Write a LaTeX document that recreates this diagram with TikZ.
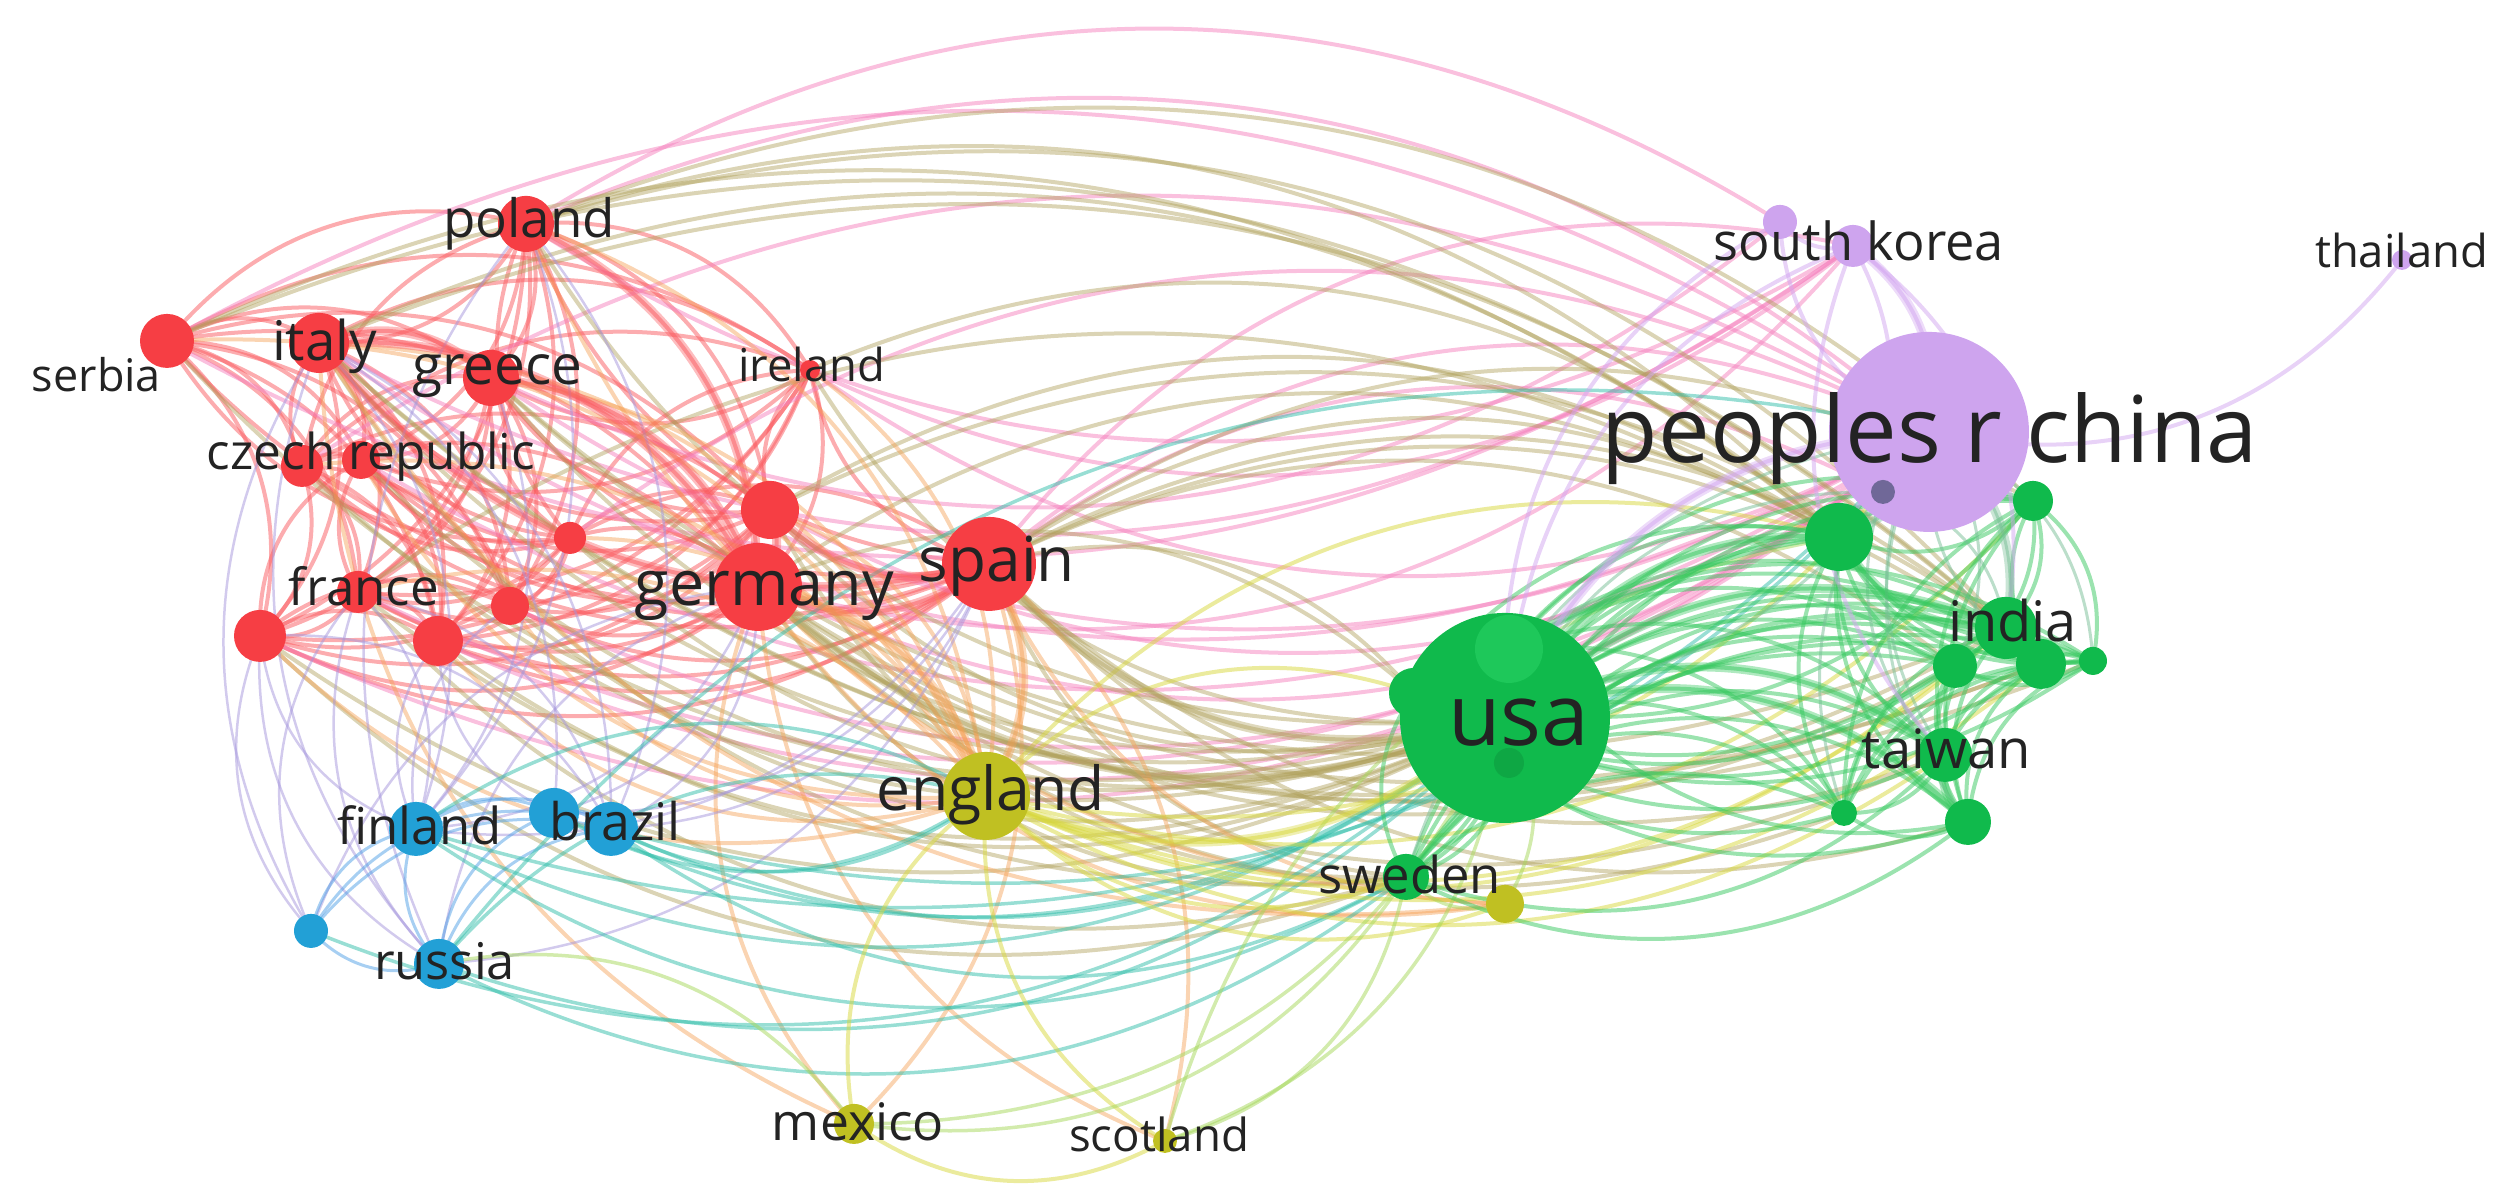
\documentclass[tikz,border=0pt]{standalone}
\usepackage{fontspec}
\setmainfont{Open Sans}
\usepackage{graphicx}
\newdimen\pxu \pxu=0.04pt
\definecolor{nred}{RGB}{246,62,68}
\definecolor{ngreen}{RGB}{16,186,76}
\definecolor{ngreenl}{RGB}{30,200,90}
\definecolor{nblue}{RGB}{34,160,214}
\definecolor{nyellow}{RGB}{192,192,34}
\definecolor{npurple}{RGB}{206,164,238}
\definecolor{ndark}{RGB}{112,104,152}
\definecolor{cR}{RGB}{250,90,95}
\definecolor{cP}{RGB}{245,130,190}
\definecolor{cO}{RGB}{175,160,90}
\definecolor{cY}{RGB}{245,160,85}
\definecolor{cL}{RGB}{165,150,220}
\definecolor{cB}{RGB}{80,160,230}
\definecolor{cT}{RGB}{50,190,170}
\definecolor{cYl}{RGB}{215,215,60}
\definecolor{cLi}{RGB}{165,215,90}
\definecolor{cG}{RGB}{55,200,95}
\definecolor{cGc}{RGB}{120,190,150}
\definecolor{cV}{RGB}{210,165,240}
\definecolor{labc}{RGB}{35,35,35}
% ranks (alphabetical order of the items)
\def\rkaus{1}\def\rkaut{2}\def\rkbel{3}\def\rkbra{4}\def\rkcan{5}\def\rkchl{6}
\def\rkcz{7}\def\rkden{8}\def\rkeng{9}\def\rkfin{10}\def\rkfra{11}\def\rkger{12}
\def\rkgre{13}\def\rkskb{14}\def\rkind{15}\def\rkire{16}\def\rkita{17}\def\rkjap{18}
\def\rkmal{19}\def\rkmex{20}\def\rknet{21}\def\rknor{22}\def\rkchi{23}\def\rkpak{24}
\def\rkpol{25}\def\rkpor{26}\def\rkrus{27}\def\rksau{28}\def\rksco{29}\def\rkser{30}
\def\rksin{31}\def\rkhk{32}\def\rkskr{33}\def\rkspa{34}\def\rkswe{35}\def\rkswi{36}
\def\rktai{37}\def\rktha{38}\def\rktur{39}\def\rkuo{40}\def\rkvie{42}\def\rkusa{43}\def\rkut{44}
\newcommand\vedge[3]{%
  \ifnum\csname rk#2\endcsname<\csname rk#3\endcsname\relax
    \draw[#1] (#2) to[bend right=32] (#3);%
  \else
    \draw[#1] (#3) to[bend right=32] (#2);%
  \fi}
\newcommand\vedges[2]{\foreach \ea/\eb in {#2}{\vedge{#1}{\ea}{\eb}}}
\newcommand\vclique[2]{\foreach \ea [count=\ei] in {#2}{\foreach \eb [count=\ej] in {#2}{\ifnum\ei<\ej\relax\vedge{#1}{\ea}{\eb}\fi}}}
\newcommand\vnode[3]{\node[vn, fill=#2, minimum size={2*#3\pxu}] (#1c) at (#1) {};}
\newcommand\vlab[5]{\node[anchor=base west, inner sep=0pt, text=labc] (#1l) at (#2,#3) {\resizebox{#4\pxu}{!}{\fontsize{50}{50}\selectfont #5}};}
\begin{document}
\begin{tikzpicture}[x=\pxu,y=-\pxu,
  ed/.style={line width=4\pxu, draw opacity=.5, line cap=round},
  eR/.style={ed, draw=cR},
  eP/.style={ed, draw=cP},
  eO/.style={ed, draw=cO, draw opacity=.45},
  eY/.style={ed, draw=cY, draw opacity=.45},
  eL/.style={ed, draw=cL, line width=2.5\pxu},
  eB/.style={ed, draw=cB, line width=3\pxu},
  eT/.style={ed, draw=cT, line width=3.5\pxu},
  eYl/.style={ed, draw=cYl},
  eLi/.style={ed, draw=cLi, line width=3.5\pxu},
  eG/.style={ed, draw=cG},
  eGc/.style={ed, draw=cGc, line width=3\pxu},
  eV/.style={ed, draw=cV},
  thick/.style={line width=9\pxu, draw opacity=.4},
  vn/.style={circle, inner sep=0pt, draw=none}]
\useasboundingbox (0,0) rectangle (2510,1200);
% ---- item positions
\coordinate (pol) at (526,224);
\coordinate (ser) at (167,341);
\coordinate (ita) at (319,343);
\coordinate (gre) at (491,378);
\coordinate (por) at (302,466);
\coordinate (cz)  at (361,460);
\coordinate (ire) at (810,370);
\coordinate (net) at (770,510);
\coordinate (swi) at (570,538);
\coordinate (ger) at (758,587);
\coordinate (spa) at (989,564);
\coordinate (fra) at (358,592);
\coordinate (aut) at (510,606);
\coordinate (den) at (260,636);
\coordinate (bel) at (438,641);
\coordinate (fin) at (416,829);
\coordinate (chl) at (554,813);
\coordinate (bra) at (611,829);
\coordinate (nor) at (311,931);
\coordinate (rus) at (439,964);
\coordinate (eng) at (986,796);
\coordinate (mex) at (854,1124);
\coordinate (sco) at (1165,1141);
\coordinate (tur) at (1505,904);
\coordinate (usa) at (1505,718);
\coordinate (uo)  at (1509,649);
\coordinate (can) at (1414,693);
\coordinate (ut)  at (1509,763);
\coordinate (swe) at (1406,877);
\coordinate (aus) at (1839,537);
\coordinate (pak) at (2033,501);
\coordinate (ind) at (2006,628);
\coordinate (sau) at (2041,664);
\coordinate (jap) at (1955,666);
\coordinate (mal) at (2093,661);
\coordinate (tai) at (1945,755);
\coordinate (sin) at (1844,813);
\coordinate (vie) at (1968,822);
\coordinate (chi) at (1929,432);
\coordinate (hk)  at (1883,492);
\coordinate (skb) at (1780,222);
\coordinate (skr) at (1853,246);
\coordinate (tha) at (2402,260);
% ---- links
\vclique{eR}{pol,ser,ita,gre,por,cz,ire,net,swi,ger,spa,fra,aut,den,bel}
\vedges{eP}{pol/chi,pol/skb,pol/skr,ser/chi,ser/skr,ita/chi,ita/skr,gre/chi,gre/skb,ger/chi,ger/skr,spa/chi,spa/skr,net/chi,fra/chi,cz/chi,ire/chi,den/chi,por/chi,aut/chi,bel/chi,swi/chi,ire/skr,spa/hk}
\vedges{eO}{pol/usa,ser/usa,ita/usa,gre/usa,ger/usa,spa/usa,net/usa,fra/usa,ire/usa,den/usa,aut/usa,bel/usa,por/usa,cz/usa,swi/usa,ger/aus,spa/aus,ita/aus,pol/aus,spa/ind,ger/ind,ita/ind,gre/ind,pol/ind,spa/tai,ger/tai,spa/swe,ger/swe,ita/swe,fra/swe,net/swe,den/swe,spa/sau,ita/sau,ger/jap,spa/jap,ger/can,spa/can,gre/sau,pol/pak,spa/pak,ita/mal,spa/vie,ger/sin,ser/ind,ser/aus,net/aus,net/ind,ire/aus,fra/aus}
\vedges{eY}{pol/eng,ser/eng,ita/eng,gre/eng,ger/eng,spa/eng,net/eng,fra/eng,ire/eng,den/eng,aut/eng,bel/eng,por/eng,cz/eng,swi/eng,spa/mex,ger/mex,ita/mex,spa/sco,ger/sco,spa/tur,ita/tur,ger/tur,pol/tur}
\vedges{eL}{fin/fra,fin/den,fin/ger,fin/ita,fin/spa,fin/bel,fin/aut,bra/spa,bra/ger,bra/ita,bra/fra,bra/pol,chl/spa,chl/ger,chl/ita,rus/ger,rus/fra,rus/ita,rus/spa,rus/pol,rus/den,nor/den,nor/fra,nor/ger,fin/pol,fin/gre,nor/ita,bra/den,chl/bel}
\vclique{eB}{fin,chl,bra,nor,rus}
\vedges{eT}{bra/usa,bra/eng,fin/usa,fin/eng,rus/usa,rus/eng,chl/usa,rus/swe,bra/swe,fin/swe,nor/usa,rus/chi,bra/chi,fin/chi,chl/eng}
\vedges{eYl}{eng/usa,eng/mex,eng/sco,eng/swe,eng/tur,eng/aus,eng/ind,eng/tai,eng/can,eng/jap,eng/chi,eng/sau,mex/sco,eng/pak}
\vedges{eLi}{mex/usa,sco/usa,tur/usa,tur/swe,mex/swe,sco/aus,sco/swe,rus/mex}
\vclique{eG}{usa,uo,can,ut,swe,aus,pak,ind,sau,jap,mal,tai,sin,vie}
\vedges{eGc}{chi/aus,chi/pak,chi/ind,chi/tai,chi/jap,chi/sin,chi/vie,chi/sau,chi/mal,chi/swe,chi/can,hk/usa,hk/tai,hk/ind}
\vedges{eV}{chi/usa,chi/skr,chi/skb,chi/tha,chi/hk,skr/skb,skr/usa,skr/tai,skr/ind,skb/usa,skr/aus}
% strong links
\vedges{eR,thick}{ger/spa,ita/ger,pol/ger,ger/net,spa/net,ita/spa,gre/ger,ita/gre}
\vedges{eO,thick}{spa/usa,ger/usa}
\vedges{eY,thick}{spa/eng,ger/eng}
\vedges{eYl,thick}{eng/usa}
\vedges{eG,thick}{usa/aus,usa/ind,usa/tai,usa/can,aus/ind,tai/vie,usa/vie}
\vedges{eV,thick}{chi/usa,chi/skr}
\vedges{eGc,thick}{chi/aus,chi/ind}
% ---- items
\vnode{pol}{nred}{28}
\vnode{ser}{nred}{27}
\vnode{ita}{nred}{30}
\vnode{gre}{nred}{28}
\vnode{por}{nred}{21}
\vnode{cz}{nred}{19}
\vnode{ire}{nred}{10}
\vnode{net}{nred}{29}
\vnode{swi}{nred}{16}
\vnode{ger}{nred}{44}
\vnode{spa}{nred}{47}
\vnode{fra}{nred}{21}
\vnode{aut}{nred}{19}
\vnode{den}{nred}{26}
\vnode{bel}{nred}{25}
\vnode{fin}{nblue}{27}
\vnode{chl}{nblue}{25}
\vnode{bra}{nblue}{27}
\vnode{nor}{nblue}{17}
\vnode{rus}{nblue}{25}
\vnode{eng}{nyellow}{44}
\vnode{mex}{nyellow}{20}
\vnode{sco}{nyellow}{12}
\vnode{tur}{nyellow}{19}
\vnode{usa}{ngreen}{105}
\vnode{uo}{ngreenl}{34}
\vnode{can}{ngreen}{25}
\vnode{ut}{ngreen!90!black}{15}
\vnode{swe}{ngreen}{23}
\vnode{aus}{ngreen}{34}
\vnode{pak}{ngreen}{20}
\vnode{ind}{ngreen}{31}
\vnode{sau}{ngreen}{25}
\vnode{jap}{ngreen}{22}
\vnode{mal}{ngreen}{14}
\vnode{tai}{ngreen}{27}
\vnode{sin}{ngreen}{13}
\vnode{vie}{ngreen}{23}
\vnode{chi}{npurple}{100}
\vnode{hk}{ndark}{12}
\vnode{skb}{npurple}{17}
\vnode{skr}{npurple}{21}
\vnode{tha}{npurple}{10}
% ---- labels
\vlab{pol}{438}{238}{172}{poland}
\vlab{ita}{267}{361}{105}{italy}
\vlab{ser}{27}{392}{129}{serbia}
\vlab{gre}{407}{385}{170}{greece}
\vlab{ire}{733}{382}{147}{ireland}
\vlab{cz}{202}{470}{328}{czech republic}
\vlab{ger}{630}{606}{259}{germany}
\vlab{spa}{914}{582}{156}{spain}
\vlab{fra}{284}{606}{150}{france}
\vlab{fin}{332}{845}{165}{finland}
\vlab{bra}{545}{841}{131}{brazil}
\vlab{eng}{872}{811}{228}{england}
\vlab{rus}{369}{980}{141}{russia}
\vlab{mex}{767}{1141}{172}{mexico}
\vlab{sco}{1064}{1152}{180}{scotland}
\vlab{swe}{1313}{894}{183}{sweden}
\vlab{usa}{1443}{746}{141}{usa}
\vlab{chi}{1597}{463}{656}{peoples r china}
\vlab{skr}{1709}{261}{290}{south korea}
\vlab{tha}{2310}{268}{173}{thailand}
\vlab{ind}{1944}{642}{128}{india}
\vlab{tai}{1857}{769}{169}{taiwan}
\end{tikzpicture}
\end{document}
